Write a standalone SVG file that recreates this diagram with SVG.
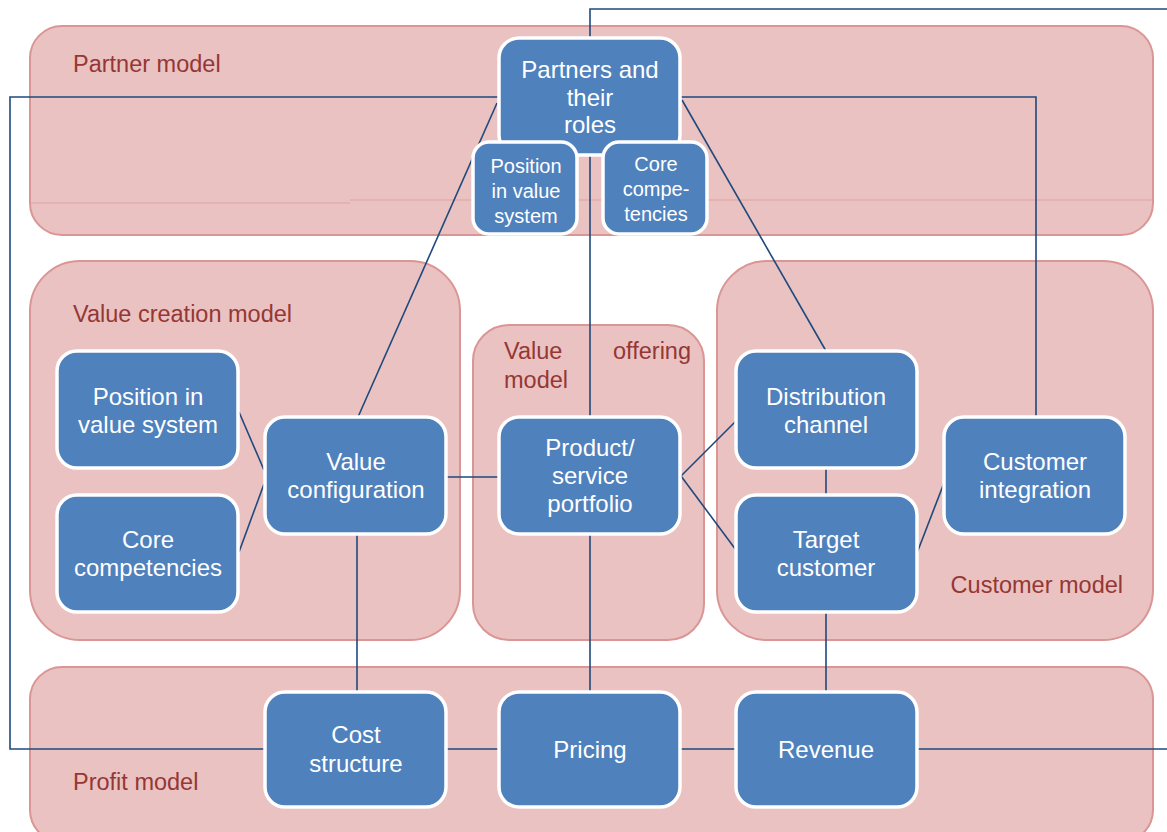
<svg xmlns="http://www.w3.org/2000/svg" width="1167" height="832" viewBox="0 0 1167 832">
  <defs>
    <style>
      .region { fill: #EAC2C1; stroke: #D99694; stroke-width: 2; }
      .region-label { font-family: "Liberation Sans", Arial, sans-serif; font-size: 23.5px; fill: #953735; }
      .node rect { fill: #4F81BD; stroke: #FFFFFF; stroke-width: 3.5; }
      .node text { font-family: "Liberation Sans", Arial, sans-serif; font-size: 24px; fill: #FFFFFF; text-anchor: middle; }
      .node.small text { font-size: 20px; }
      .conn { fill: none; stroke: #1F497D; stroke-width: 1.6; }
      .seam { stroke: #DEA3A2; stroke-width: 1; }
    </style>
  </defs>

  <rect width="1167" height="832" fill="#FFFFFF"/>

  <!-- Model areas -->
  <g id="regions">
    <rect id="partner-model" class="region" x="30" y="26" width="1123" height="209" rx="32"/>
    <line class="seam" x1="31" y1="203" x2="350" y2="203"/>
    <line class="seam" x1="350" y1="200" x2="1152" y2="200"/>
    <rect id="value-creation-model" class="region" x="30" y="261" width="430" height="379" rx="50"/>
    <rect id="value-offering-model" class="region" x="473" y="325" width="231" height="315" rx="36"/>
    <rect id="customer-model" class="region" x="717" y="261" width="436" height="379" rx="50"/>
    <rect id="profit-model" class="region" x="30" y="667" width="1123" height="175" rx="32"/>

    <text class="region-label" x="73" y="72">Partner model</text>
    <text class="region-label" x="73" y="322">Value creation model</text>
    <text class="region-label" x="504" y="359">Value</text>
    <text class="region-label" x="691" y="359" text-anchor="end">offering</text>
    <text class="region-label" x="504" y="388">model</text>
    <text class="region-label" x="1123" y="593" text-anchor="end">Customer model</text>
    <text class="region-label" x="73" y="790">Profit model</text>
  </g>

  <!-- Connectors -->
  <g id="connectors">
    <polyline class="conn" points="590,38 590,9 1167,9"/>
    <polyline class="conn" points="498,97 10,97 10,749 265,749"/>
    <polyline class="conn" points="680,97 1036,97 1036,417"/>
    <line class="conn" x1="497" y1="103" x2="358" y2="417"/>
    <line class="conn" x1="682" y1="100" x2="826" y2="351"/>
    <line class="conn" x1="590" y1="155" x2="590" y2="417"/>
    <line class="conn" x1="239" y1="412" x2="264" y2="470"/>
    <line class="conn" x1="239" y1="552" x2="264" y2="484"/>
    <line class="conn" x1="446" y1="477" x2="499" y2="477"/>
    <line class="conn" x1="357" y1="533" x2="357" y2="692"/>
    <line class="conn" x1="681" y1="476" x2="736" y2="421"/>
    <line class="conn" x1="681" y1="476" x2="736" y2="550"/>
    <line class="conn" x1="826" y1="468" x2="826" y2="496"/>
    <line class="conn" x1="917" y1="553" x2="944" y2="483"/>
    <line class="conn" x1="590" y1="535" x2="590" y2="693"/>
    <line class="conn" x1="826" y1="611" x2="826" y2="693"/>
    <line class="conn" x1="446" y1="749" x2="500" y2="749"/>
    <line class="conn" x1="680" y1="749" x2="736" y2="749"/>
    <line class="conn" x1="916" y1="749" x2="1167" y2="749"/>
  </g>

  <!-- Nodes -->
  <g id="node-partners" class="node">
    <rect x="499" y="38" width="181" height="117" rx="20"/>
    <text x="590" y="78">Partners and</text>
    <text x="590" y="106">their</text>
    <text x="590" y="133">roles</text>
  </g>
  <g id="node-partner-position" class="node small">
    <rect x="473" y="142" width="104" height="92" rx="16"/>
    <text x="526" y="173">Position</text>
    <text x="526" y="198">in value</text>
    <text x="526" y="223">system</text>
  </g>
  <g id="node-partner-competencies" class="node small">
    <rect x="603" y="142" width="104" height="92" rx="16"/>
    <text x="656" y="171">Core</text>
    <text x="656" y="196">compe-</text>
    <text x="656" y="221">tencies</text>
  </g>

  <g id="node-position" class="node">
    <rect x="57" y="351" width="181" height="117" rx="20"/>
    <text x="148" y="405">Position in</text>
    <text x="148" y="433">value system</text>
  </g>
  <g id="node-core-competencies" class="node">
    <rect x="57" y="495" width="181" height="117" rx="20"/>
    <text x="148" y="548">Core</text>
    <text x="148" y="576">competencies</text>
  </g>
  <g id="node-value-configuration" class="node">
    <rect x="265" y="417" width="181" height="117" rx="20"/>
    <text x="356" y="470">Value</text>
    <text x="356" y="498">configuration</text>
  </g>

  <g id="node-product" class="node">
    <rect x="499" y="417" width="181" height="117" rx="20"/>
    <text x="590" y="456">Product/</text>
    <text x="590" y="484">service</text>
    <text x="590" y="512">portfolio</text>
  </g>

  <g id="node-distribution" class="node">
    <rect x="736" y="351" width="181" height="117" rx="20"/>
    <text x="826" y="405">Distribution</text>
    <text x="826" y="433">channel</text>
  </g>
  <g id="node-target-customer" class="node">
    <rect x="736" y="495" width="181" height="117" rx="20"/>
    <text x="826" y="548">Target</text>
    <text x="826" y="576">customer</text>
  </g>
  <g id="node-customer-integration" class="node">
    <rect x="944" y="417" width="181" height="117" rx="20"/>
    <text x="1035" y="470">Customer</text>
    <text x="1035" y="498">integration</text>
  </g>

  <g id="node-cost-structure" class="node">
    <rect x="265" y="692" width="181" height="115" rx="20"/>
    <text x="356" y="743">Cost</text>
    <text x="356" y="772">structure</text>
  </g>
  <g id="node-pricing" class="node">
    <rect x="499" y="692" width="181" height="115" rx="20"/>
    <text x="590" y="758">Pricing</text>
  </g>
  <g id="node-revenue" class="node">
    <rect x="736" y="692" width="181" height="115" rx="20"/>
    <text x="826" y="758">Revenue</text>
  </g>
</svg>
